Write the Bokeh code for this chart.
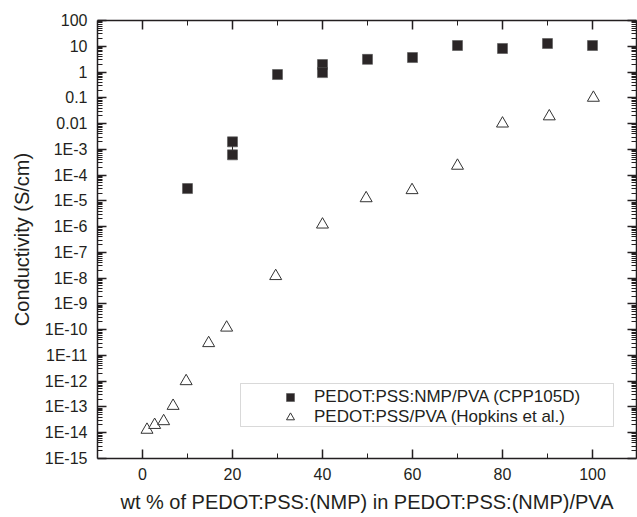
from bokeh.plotting import figure
from bokeh.models import (Range1d, FixedTicker, CustomJSTickFormatter, LogAxis, LinearAxis,
                          Legend, LegendItem, BoxAnnotation, ColumnDataSource)
from bokeh.embed import file_html
from bokeh.resources import INLINE

# ---- data ----
nmp_x = [10, 20, 20, 30, 40, 40, 50, 60, 70, 80, 90, 100]
nmp_y = [3.0e-5, 1.95e-3, 6.1e-4, 0.8, 1.95, 0.95, 3.1, 3.65, 10.7, 8.2, 12.8, 10.7]

err_x = [20]
err_lo = [6.1e-4]
err_hi = [1.95e-3]

hop_x = [1, 2.7, 4.7, 6.8, 9.7, 14.7, 18.7, 29.6, 40, 49.7, 59.9, 70, 80, 90.4, 100.2]
hop_y = [1.3e-14, 2.0e-14, 2.8e-14, 1.1e-13, 1.0e-12, 3.0e-11, 1.2e-10, 1.2e-8,
         1.2e-6, 1.26e-5, 2.6e-5, 2.3e-4, 1.0e-2, 1.9e-2, 0.1]

x_major = [0, 20, 40, 60, 80, 100]
x_minor = [10, 30, 50, 70, 90]
y_exps = list(range(-15, 3))

label_nmp = "PEDOT:PSS:NMP/PVA (CPP105D)"
label_hop = "PEDOT:PSS/PVA (Hopkins et al.)"
x_title = "wt % of PEDOT:PSS:(NMP) in PEDOT:PSS:(NMP)/PVA"
y_title = "Conductivity (S/cm)"

FONT = "Liberation Sans"
INK = "#231f20"

y_major = [10.0 ** e for e in y_exps]
y_minor = [m * 10.0 ** e for e in y_exps[:-1] for m in range(2, 10)]

p = figure(width=637, height=517, output_backend="svg", toolbar_location=None,
           y_axis_type="log", x_range=Range1d(-10, 109.78), y_range=Range1d(1e-15, 100),
           min_border_left=97, min_border_right=1, min_border_top=20, min_border_bottom=59)
p.grid.visible = False
p.outline_line_color = None
p.background_fill_color = "white"
p.border_fill_color = "white"

log_fmt_code = """
const e = Math.round(Math.log10(tick));
if (e >= 0) return String(Math.round(Math.pow(10, e)));
if (e >= -2) return Math.pow(10, e).toFixed(-e);
return "1E" + e;
"""

def style_axis(ax):
    ax.axis_line_color = INK
    ax.axis_line_width = 1.5
    ax.major_tick_line_color = INK
    ax.major_tick_line_width = 1.5
    ax.minor_tick_line_color = INK
    ax.minor_tick_line_width = 1
    ax.major_tick_in = 9
    ax.major_tick_out = 0
    ax.minor_tick_in = 5
    ax.minor_tick_out = 0
    ax.major_label_text_font = FONT
    ax.major_label_text_font_size = "16px"
    ax.major_label_text_color = INK
    ax.axis_label_text_font = FONT
    ax.axis_label_text_font_size = "20px"
    ax.axis_label_text_font_style = "normal"
    ax.axis_label_text_color = INK

# bottom axis
xa = p.xaxis[0]
xa.ticker = FixedTicker(ticks=x_major, minor_ticks=x_minor)
style_axis(xa)
xa.axis_label = x_title
xa.major_label_standoff = 9
xa.axis_label_standoff = 8

# left axis
ya = p.yaxis[0]
ya.ticker = FixedTicker(ticks=y_major, minor_ticks=y_minor)
ya.formatter = CustomJSTickFormatter(code=log_fmt_code)
style_axis(ya)
ya.axis_label = y_title
ya.major_label_standoff = 10
ya.axis_label_standoff = 9

# top axis
ta = LinearAxis(ticker=FixedTicker(ticks=x_major, minor_ticks=x_minor),
                formatter=CustomJSTickFormatter(code="return '';"))
style_axis(ta)
ta.major_label_standoff = 0
ta.major_label_text_font_size = "1px"
p.add_layout(ta, "above")

# right axis
ra = LogAxis(ticker=FixedTicker(ticks=y_major, minor_ticks=y_minor),
             formatter=CustomJSTickFormatter(code="return '';"))
style_axis(ra)
ra.major_label_standoff = 0
ra.major_label_text_font_size = "1px"
p.add_layout(ra, "right")

# data
src_nmp = ColumnDataSource(dict(x=nmp_x, y=nmp_y))
src_hop = ColumnDataSource(dict(x=hop_x, y=hop_y))
src_err = ColumnDataSource(dict(x=err_x, lo=err_lo, hi=err_hi))

p.segment(x0="x", y0="lo", x1="x", y1="hi", source=src_err, line_color=INK, line_width=1)
r_hop = p.scatter("x", "y", source=src_hop, marker="triangle", size=12,
                  fill_color="white", line_color="#333333", line_width=1)
r_nmp = p.scatter("x", "y", source=src_nmp, marker="square", size=10,
                  fill_color="#2b2627", line_color="#555555", line_width=0.6)

legend = Legend(items=[LegendItem(label=label_nmp, renderers=[r_nmp]),
                       LegendItem(label=label_hop, renderers=[r_hop])],
                location=(183, 31), padding=0, spacing=0, margin=0,
                glyph_width=20, glyph_height=20, label_height=20, label_standoff=14,
                label_text_font=FONT, label_text_font_size="17px", label_text_color=INK,
                border_line_alpha=0, background_fill_alpha=0)
p.add_layout(legend)

box = BoxAnnotation(left=143, right=516, top=75, bottom=32,
                    left_units="screen", right_units="screen",
                    top_units="screen", bottom_units="screen",
                    fill_alpha=0, line_color="#808080", line_width=1)
p.add_layout(box)

open("out.html", "w").write(file_html(p, INLINE))
